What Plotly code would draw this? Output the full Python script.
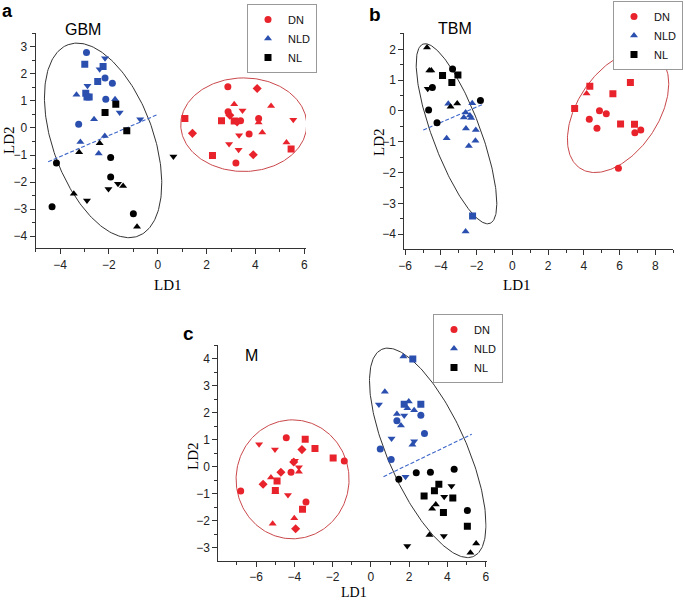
import numpy as np
import plotly.graph_objects as go

W, H = 685, 603

# ---------------- DATA ----------------
groups = ["DN", "NLD", "NL"]

# Panel a (GBM)
a_DN_x = [2.87, 4.07, 3.13, 4.64, 3.47, 2.88, 2.95, 1.11, 2.61, 3.13, 3.25, 3.39, 4.13, 4.13, 5.55, 1.42, 3.74, 3.33, 4.28, 2.92, 5.27, 5.46, 3.31, 2.24, 3.91, 3.20]
a_DN_y = [1.52, 1.46, 0.88, 0.81, 0.65, 0.60, 0.47, 0.35, 0.27, 0.26, 0.22, 0.27, 0.35, 0.20, 0.30, -0.20, -0.22, -0.27, -0.17, -0.59, -0.54, -0.78, -0.81, -1.02, -0.99, -1.30]
a_DN_k = ["c", "d", "u", "u", "v", "c", "d", "s", "s", "s", "d", "c", "c", "u", "v", "d", "c", "v", "u", "v", "u", "s", "v", "s", "d", "c"]

a_NLD_x = [-3.33, -2.92, -2.16, -2.99, -2.24, -2.38, -2.16, -2.46, -1.86, -2.88, -2.95, -2.90, -2.81, -2.13, -1.75, -1.56, -2.61, -0.72, -3.24, -2.17, -3.17, -2.42]
a_NLD_y = [1.23, 2.79, 2.58, 2.36, 2.27, 2.17, 1.85, 1.72, 1.65, 1.56, 1.28, 1.14, 1.14, 1.06, 1.06, 0.57, 0.32, 0.32, 0.14, -0.30, -0.52, -0.94]
a_NLD_k = ["u", "c", "v", "s", "s", "v", "c", "s", "c", "v", "s", "s", "s", "c", "u", "v", "u", "v", "c", "u", "u", "u"]

a_NL_x = [-1.72, -2.16, -1.27, -2.38, -3.22, 0.64, -1.93, -4.15, -1.93, -1.63, -1.42, -2.02, -3.44, -2.90, -4.33, -1.00, -0.85]
a_NL_y = [0.88, 0.57, -0.10, -0.57, -0.90, -1.06, -1.09, -1.30, -1.81, -2.06, -2.15, -2.26, -2.43, -2.68, -2.91, -3.17, -3.65]
a_NL_k = ["s", "s", "s", "u", "u", "v", "c", "c", "c", "v", "u", "v", "u", "v", "c", "c", "u"]

# Panel b (TBM)
b_DN_x = [7.24, 6.60, 4.33, 4.15, 5.62, 3.48, 4.87, 5.25, 4.30, 4.73, 6.05, 6.83, 7.18, 6.85, 5.93]
b_DN_y = [1.79, 0.92, 0.80, 0.57, 0.56, 0.08, 0.01, -0.09, -0.27, -0.56, -0.42, -0.43, -0.62, -0.71, -1.86]
b_DN_k = ["c", "s", "s", "u", "s", "s", "c", "c", "c", "c", "s", "s", "c", "c", "c"]

b_NLD_x = [-3.59, -2.25, -2.62, -2.72, -2.38, -2.31, -2.60, -2.05, -3.68, -2.07, -2.44, -2.23, -2.62]
b_NLD_y = [0.23, 0.25, -0.05, -0.21, -0.15, -0.23, -0.57, -0.62, -0.89, -0.97, -1.14, -3.41, -3.91]
b_NLD_k = ["u", "u", "u", "u", "u", "u", "u", "u", "u", "u", "u", "s", "u"]

b_NL_x = [-3.91, -3.05, -3.39, -4.78, -4.65, -4.54, -3.35, -4.74, -4.48, -4.69, -3.46, -3.09, -1.79, -4.22]
b_NL_y = [1.15, 1.17, 0.92, 2.06, 1.31, 1.31, 1.36, 0.72, 0.76, 0.03, 0.14, 0.24, 0.34, -0.38]
b_NL_k = ["s", "s", "s", "u", "u", "u", "c", "v", "c", "c", "u", "u", "c", "c"]

# Panel c (M)
c_DN_x = [-4.42, -3.43, -5.84, -5.01, -3.60, -2.92, -1.97, -1.39, -3.97, -4.03, -3.76, -3.76, -4.70, -4.17, -5.22, -4.90, -5.63, -6.80, -4.99, -4.99, -4.33, -3.39, -3.57, -5.13, -4.00, -3.93]
c_DN_y = [1.07, 1.01, 0.83, 0.63, 0.63, 0.67, 0.32, 0.21, 0.22, 0.17, -0.02, -0.19, -0.21, -0.21, -0.40, -0.53, -0.65, -0.90, -0.88, -0.94, -1.05, -1.31, -1.58, -2.11, -1.91, -2.30]
c_DN_k = ["c", "s", "v", "v", "d", "s", "s", "c", "v", "d", "v", "u", "d", "c", "u", "s", "d", "c", "s", "u", "v", "c", "s", "u", "u", "d"]

c_NLD_x = [1.70, 2.19, 0.73, 0.42, 1.74, 1.98, 2.61, 1.36, 1.74, 1.91, 2.26, 2.61, 1.36, 1.57, 2.80, 1.08, 2.17, 2.26, 0.49, 1.06, 1.81]
c_NLD_y = [4.07, 3.98, 2.77, 2.30, 2.31, 2.41, 2.31, 1.95, 1.89, 2.16, 2.09, 1.90, 1.70, 1.52, 1.23, 1.04, 0.81, 0.94, 0.65, 0.26, -0.37]
c_NLD_k = ["u", "s", "u", "v", "s", "u", "s", "u", "v", "u", "u", "c", "c", "u", "c", "v", "u", "v", "c", "c", "v"]

c_NL_x = [3.55, 1.46, 2.37, 3.11, 4.35, 4.21, 3.32, 2.78, 3.83, 4.28, 3.39, 3.20, 3.79, 5.04, 5.04, 3.06, 3.81, 1.90, 5.50, 5.20]
c_NL_y = [-0.65, -0.47, -0.23, -0.21, -0.10, -0.72, -0.89, -1.09, -1.11, -1.16, -1.40, -1.56, -1.70, -1.62, -2.21, -2.53, -2.57, -2.94, -2.84, -3.19]
c_NL_k = ["s", "c", "c", "c", "c", "v", "s", "s", "v", "s", "u", "u", "s", "c", "s", "u", "v", "v", "u", "u"]

# Discriminant boundary lines (endpoints)
a_bound_x = [-4.49, -0.05]
a_bound_y = [-1.25, 0.48]
b_bound_x = [-4.99, -1.64]
b_bound_y = [-0.62, 0.22]
c_bound_x = [0.66, 5.27]
c_bound_y = [-0.37, 1.20]

# Confidence ellipses: centre, first and second semi-axis vectors
a_ell_black = [(-2.24, -0.46), (-1.43, 3.54), (1.93, 0.64)]
a_ell_red = [(3.52, 0.12), (0.0, 1.73), (2.58, 0.0)]
b_ell_black = [(-3.13, -0.74), (-1.87, 2.91), (1.26, 0.27)]
b_ell_red = [(5.91, -0.02), (2.13, 1.84), (1.87, -0.73)]
c_ell_black = [(2.97, 0.51), (-2.40, 3.83), (1.87, 0.59)]
c_ell_red = [(-4.09, -0.47), (0.0, 2.20), (2.95, 0.0)]

# ---------------- STYLE ----------------
SYM = {"c": "circle", "s": "square", "u": "triangle-up", "v": "triangle-down", "d": "diamond"}
COL = {"DN": "#e8232b", "NLD": "#2b4fae", "NL": "#000000"}
SANS = "Liberation Sans, Arial, sans-serif"
SERIF = "Liberation Serif, Times New Roman, serif"
TICKFONT = dict(family=SANS, size=12, color="#222")

fig = go.Figure()

panels = [
    dict(xa="x", ya="y", legend="legend",
         data={"DN": (a_DN_x, a_DN_y, a_DN_k), "NLD": (a_NLD_x, a_NLD_y, a_NLD_k), "NL": (a_NL_x, a_NL_y, a_NL_k)},
         bound=(a_bound_x, a_bound_y), ells=[(a_ell_black, "#333333"), (a_ell_red, "#c9474a")]),
    dict(xa="x2", ya="y2", legend="legend2",
         data={"DN": (b_DN_x, b_DN_y, b_DN_k), "NLD": (b_NLD_x, b_NLD_y, b_NLD_k), "NL": (b_NL_x, b_NL_y, b_NL_k)},
         bound=(b_bound_x, b_bound_y), ells=[(b_ell_black, "#333333"), (b_ell_red, "#c9474a")]),
    dict(xa="x3", ya="y3", legend="legend3",
         data={"DN": (c_DN_x, c_DN_y, c_DN_k), "NLD": (c_NLD_x, c_NLD_y, c_NLD_k), "NL": (c_NL_x, c_NL_y, c_NL_k)},
         bound=(c_bound_x, c_bound_y), ells=[(c_ell_black, "#333333"), (c_ell_red, "#c9474a")]),
]

t = np.linspace(0, 2 * np.pi, 241)
for p in panels:
    for (cen, u, v), col in p["ells"]:
        ex = cen[0] + u[0] * np.cos(t) + v[0] * np.sin(t)
        ey = cen[1] + u[1] * np.cos(t) + v[1] * np.sin(t)
        fig.add_trace(go.Scatter(x=ex, y=ey, mode="lines", line=dict(color=col, width=1),
                                 xaxis=p["xa"], yaxis=p["ya"], showlegend=False, hoverinfo="skip"))
    bx, by = p["bound"]
    fig.add_trace(go.Scatter(x=bx, y=by, mode="lines", line=dict(color="#3d66c9", width=1.1, dash="4px,2px"),
                             xaxis=p["xa"], yaxis=p["ya"], showlegend=False, hoverinfo="skip"))
    for g in groups:
        xs, ys, ks = p["data"][g]
        fig.add_trace(go.Scatter(x=xs, y=ys, mode="markers", name=g,
                                 marker=dict(color=COL[g], size=7, symbol=[SYM[k] for k in ks]),
                                 xaxis=p["xa"], yaxis=p["ya"], legend=p["legend"]))

def px_x(x0, x1):
    return [x0 / W, x1 / W]

def px_y(y0, y1):
    return [1 - y1 / H, 1 - y0 / H]

axis_common = dict(showline=True, linecolor="#333", linewidth=1, ticks="outside", ticklen=5,
                   tickcolor="#333", showgrid=False, zeroline=False, tickfont=TICKFONT, automargin=False,
                   minor=dict(ticks="outside", ticklen=3, tickcolor="#333", showgrid=False))

fig.update_layout(
    width=W, height=H, margin=dict(l=0, r=0, t=0, b=0, autoexpand=False),
    paper_bgcolor="white", plot_bgcolor="white",
    xaxis=dict(domain=px_x(35.7, 306), range=[-5.0, 6.07], dtick=2, tick0=0, anchor="y", **axis_common),
    yaxis=dict(domain=px_y(33.3, 248.3), range=[-4.45, 3.5], dtick=1, tick0=0, anchor="x", **axis_common),
    xaxis2=dict(domain=px_x(404.3, 673.3), range=[-6.05, 9.0], dtick=2, tick0=0, anchor="y2", **axis_common),
    yaxis2=dict(domain=px_y(33.3, 249.3), range=[-4.49, 2.52], dtick=1, tick0=0, anchor="x2", **axis_common),
    xaxis3=dict(domain=px_x(218.3, 486.7), range=[-7.97, 6.05], dtick=2, tick0=0, anchor="y3", **axis_common),
    yaxis3=dict(domain=px_y(345, 560.7), range=[-3.48, 4.5], dtick=1, tick0=0, anchor="x3", **axis_common),
)
for ax in ["xaxis", "xaxis2", "xaxis3"]:
    fig.layout[ax].minor.dtick = 1
for ax in ["yaxis", "yaxis2", "yaxis3"]:
    fig.layout[ax].minor.dtick = 0.5

leg_common = dict(bgcolor="white", bordercolor="#999", borderwidth=1, xanchor="right", yanchor="top",
                  font=dict(family=SANS, size=11, color="#111"),
                  tracegroupgap=0, itemwidth=30)
fig.update_layout(
    legend=dict(x=317 / W, y=1 - 4 / H, **leg_common),
    legend2=dict(x=683 / W, y=1 - 1 / H, **leg_common),
    legend3=dict(x=503 / W, y=1 - 314 / H, **leg_common),
)

def ann(text, x, y, size, family, bold=False, angle=0):
    fig.add_annotation(text=("<b>%s</b>" % text) if bold else text, x=x / W, y=1 - y / H,
                       xref="paper", yref="paper", showarrow=False, xanchor="center", yanchor="middle",
                       textangle=angle, font=dict(size=size, family=family, color="#000"))

ann("a", 8, 11, 18, SANS, bold=True)
ann("b", 375, 14, 19, SANS, bold=True)
ann("c", 188, 333, 19, SANS, bold=True)
ann("GBM", 83, 29, 16, SANS)
ann("TBM", 455, 28, 16, SANS)
ann("M", 252, 355, 16, SANS)
ann("LD1", 168, 285, 15, SERIF)
ann("LD1", 517, 285, 15, SERIF)
ann("LD1", 354, 592, 14, SERIF)
ann("LD2", 9, 140, 15, SERIF, angle=-90)
ann("LD2", 379, 142, 15, SERIF, angle=-90)
ann("LD2", 193, 456, 15, SERIF, angle=-90)

fig.write_html("out.html", config={"displayModeBar": False},
               post_script="document.body.style.margin='0';document.body.style.padding='0';")
